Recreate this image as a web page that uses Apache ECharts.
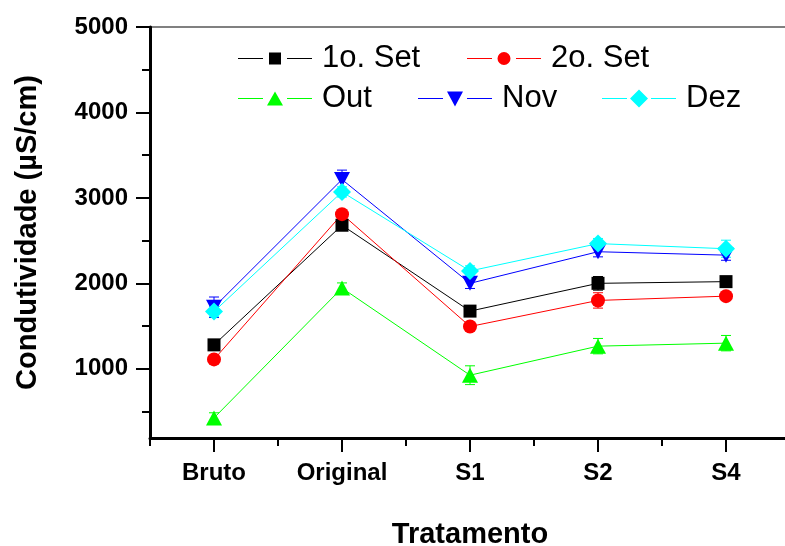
<!DOCTYPE html>
<html>
<head>
<meta charset="utf-8">
<title>Condutividade por tratamento</title>
<script src="https://cdn.jsdelivr.net/npm/echarts@6/dist/echarts.min.js"></script>
<style>
  html, body { margin: 0; padding: 0; background: #fff; }
  #chart { width: 785px; height: 546px; }
</style>
</head>
<body>
<div id="chart"></div>
<script>
// Categories on the x axis
const tratamentos = ['Bruto', 'Original', 'S1', 'S2', 'S4'];

// Conductivity (µS/cm) per sampling campaign
const set1 = [1280, 2680, 1675, 2000, 2020];
const set2 = [1110, 2810, 1495, 1800, 1850];
const out  = [425, 1945, 925, 1265, 1300];
const nov  = [1720, 3215, 2000, 2370, 2330];
const dez  = [1670, 3070, 2145, 2465, 2405];

// Standard deviations drawn as error bars
const errSet1 = [30, 40, 40, 80, 40];
const errSet2 = [30, 40, 40, 90, 40];
const errOut  = [60, 60, 110, 90, 90];
const errNov  = [120, 110, 60, 60, 60];
const errDez  = [60, 60, 60, 60, 100];

// Axis ticks
const majorTicks = [1000, 2000, 3000, 4000, 5000];
const minorTicks = [500, 1500, 2500, 3500, 4500];

const FONT = "'Liberation Sans', Arial, Helvetica, sans-serif";

// Legend glyphs: line, gap, marker, gap, line (79 x 20 box)
const BOX = 'M0 0L0 0Z M79 20L79 20Z ';
const SEG = 'M0 9.5H25V10.5H0Z M49 9.5H74V10.5H49Z ';
const icons = {
  square:   BOX + SEG + 'M31 4H43V16H31Z',
  circle:   BOX + SEG + 'M30.5 10A6.5 6.5 0 1 1 43.5 10A6.5 6.5 0 1 1 30.5 10Z',
  triUp:    BOX + SEG + 'M37 3L45 17L29 17Z',
  triDown:  BOX + SEG + 'M29 3L45 3L37 18Z',
  diamond:  BOX + SEG + 'M37 1L46 10L37 19L28 10Z'
};

const defs = [
  { name: '1o. Set', data: set1, err: errSet1, color: '#000000', symbol: 'rect', size: 13, icon: icons.square },
  { name: '2o. Set', data: set2, err: errSet2, color: '#ff0000', symbol: 'circle', size: 14, icon: icons.circle },
  { name: 'Out', data: out, err: errOut, color: '#00ff00', symbol: 'triangle', size: [16, 15], icon: icons.triUp },
  { name: 'Nov', data: nov, err: errNov, color: '#0000ff', symbol: 'path://M0 0L16 0L8 15Z', size: [16, 15], icon: icons.triDown },
  { name: 'Dez', data: dez, err: errDez, color: '#00ffff', symbol: 'diamond', size: 18, icon: icons.diamond }
];

function errorBarSeries(d) {
  return {
    type: 'custom',
    name: d.name + ' (desvio)',
    xAxisIndex: 0,
    yAxisIndex: 0,
    z: 2,
    silent: true,
    encode: { x: 0, y: 1 },
    data: d.data.map((v, i) => [i, v, d.err[i]]),
    renderItem: function (params, api) {
      const x = api.value(0), v = api.value(1), e = api.value(2);
      const top = api.coord([x, v + e]);
      const bot = api.coord([x, v - e]);
      const cap = 5;
      const st = { stroke: d.color, lineWidth: 1 };
      return {
        type: 'group',
        children: [
          { type: 'line', shape: { x1: top[0], y1: top[1], x2: bot[0], y2: bot[1] }, style: st },
          { type: 'line', shape: { x1: top[0] - cap, y1: top[1], x2: top[0] + cap, y2: top[1] }, style: st },
          { type: 'line', shape: { x1: bot[0] - cap, y1: bot[1], x2: bot[0] + cap, y2: bot[1] }, style: st }
        ]
      };
    }
  };
}

const lineSeries = defs.map(d => ({
  type: 'line',
  name: d.name,
  xAxisIndex: 0,
  yAxisIndex: 0,
  data: d.data,
  z: 3,
  symbol: d.symbol,
  symbolSize: d.size,
  showAllSymbol: true,
  color: d.color,
  lineStyle: { color: d.color, width: 1 },
  itemStyle: { color: d.color, borderWidth: 0 },
  emphasis: { disabled: true }
}));

const legendPos = [
  { left: 238, top: 43 },
  { left: 467, top: 43 },
  { left: 238, top: 83 },
  { left: 418, top: 83 },
  { left: 602, top: 83 }
];

const legends = defs.map((d, i) => ({
  show: true,
  left: legendPos[i].left,
  top: legendPos[i].top,
  padding: 0,
  orient: 'horizontal',
  selectedMode: false,
  itemWidth: 79,
  itemHeight: 20,
  itemStyle: { borderWidth: 0 },
  textStyle: { fontFamily: FONT, fontSize: 31, color: '#000' },
  data: [{ name: d.name, icon: 'path://' + d.icon }]
}));

const chart = echarts.init(document.getElementById('chart'), null, { renderer: 'canvas' });

chart.setOption({
  animation: false,
  backgroundColor: '#ffffff',
  legend: legends,
  grid: {
    left: 150, top: 27, right: -5, bottom: 108,
    outerBoundsMode: 'none',
    containLabel: false,
    show: true, borderColor: '#808080', borderWidth: 2, backgroundColor: 'transparent'
  },
  xAxis: [
    {
      type: 'category',
      data: tratamentos,
      position: 'bottom',
      boundaryGap: true,
      name: 'Tratamento',
      nameLocation: 'middle',
      nameGap: 82,
      nameTextStyle: { fontFamily: FONT, fontSize: 29, fontWeight: 'bold', color: '#000' },
      axisLine: { show: true, lineStyle: { color: '#000', width: 3 } },
      axisTick: { show: true, alignWithLabel: true, length: 14, lineStyle: { color: '#000', width: 2 } },
      axisLabel: { show: true, margin: 23, fontFamily: FONT, fontSize: 24, fontWeight: 'bold', color: '#000' },
      splitLine: { show: false }
    },
    {
      type: 'category',
      data: tratamentos,
      position: 'bottom',
      boundaryGap: true,
      axisLine: { show: false },
      axisTick: { show: true, length: 8, lineStyle: { color: '#000', width: 2 } },
      axisLabel: { show: false },
      splitLine: { show: false }
    }
  ],
  yAxis: [
    {
      type: 'value',
      min: 190,
      max: 5000,
      position: 'left',
      name: 'Condutividade (µS/cm)',
      nameLocation: 'middle',
      nameGap: 108,
      nameTextStyle: { fontFamily: FONT, fontSize: 29, fontWeight: 'bold', color: '#000' },
      axisLine: { show: true, lineStyle: { color: '#000', width: 3 } },
      axisTick: { show: true, length: 14, customValues: majorTicks, lineStyle: { color: '#000', width: 2 } },
      axisLabel: {
        show: true, margin: 22, customValues: majorTicks,
        formatter: v => String(v),
        fontFamily: FONT, fontSize: 24, fontWeight: 'bold', color: '#000'
      },
      splitLine: { show: false }
    },
    {
      type: 'value',
      min: 190,
      max: 5000,
      position: 'left',
      axisLine: { show: false },
      axisTick: { show: true, length: 8, customValues: minorTicks, lineStyle: { color: '#000', width: 2 } },
      axisLabel: { show: false },
      splitLine: { show: false }
    }
  ],
  series: [...defs.map(errorBarSeries), ...lineSeries]
});
</script>
</body>
</html>
